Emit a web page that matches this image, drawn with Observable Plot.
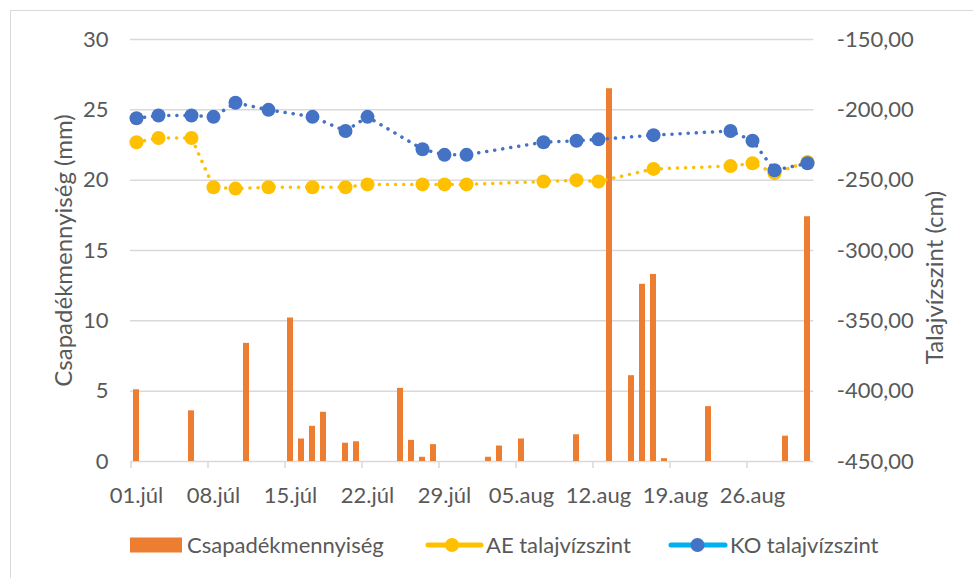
<!DOCTYPE html>
<html>
<head>
<meta charset="utf-8">
<script src="https://cdn.jsdelivr.net/npm/d3@7"></script>
<script src="https://cdn.jsdelivr.net/npm/@observablehq/plot@0.6"></script>
<style>
  html, body { margin: 0; padding: 0; background: #fff; }
  body { width: 973px; height: 578px; position: relative; overflow: hidden; font-family: Lato, "Noto Sans", sans-serif; }
  #frame { position: absolute; left: 10px; top: 10px; width: 1000px; height: 620px; border: 1.5px solid #d9d9d9; box-sizing: border-box; }
  #chart { position: absolute; left: 0; top: 0; }
  #legend { position: absolute; left: 0; top: 520px; }
</style>
</head>
<body>
<div id="frame"></div>
<div id="chart"></div>
<div id="legend"></div>
<script>
// ---- data ----
const months = [["júl", 31], ["aug", 31]];
const xTickLabels = ["01.júl", "08.júl", "15.júl", "22.júl", "29.júl", "05.aug", "12.aug", "19.aug", "26.aug"];
const leftTicks = [0, 5, 10, 15, 20, 25, 30];
const rightTicks = [-450, -400, -350, -300, -250, -200, -150];

const rainDates = ["01.júl", "06.júl", "11.júl", "15.júl", "16.júl", "17.júl", "18.júl", "20.júl", "21.júl",
  "25.júl", "26.júl", "27.júl", "28.júl", "02.aug", "03.aug", "05.aug", "10.aug", "13.aug", "15.aug",
  "16.aug", "17.aug", "18.aug", "22.aug", "29.aug", "31.aug"];
const rainMm = [5.1, 3.6, 8.4, 10.2, 1.6, 2.5, 3.5, 1.3, 1.4,
  5.2, 1.5, 0.3, 1.2, 0.3, 1.1, 1.6, 1.9, 26.5, 6.1,
  12.6, 13.3, 0.2, 3.9, 1.8, 17.4];

const gwDates = ["01.júl", "03.júl", "06.júl", "08.júl", "10.júl", "13.júl", "17.júl", "20.júl", "22.júl",
  "27.júl", "29.júl", "31.júl", "07.aug", "10.aug", "12.aug", "17.aug", "24.aug", "26.aug", "28.aug", "31.aug"];
const aeCm = [-223, -220, -220, -255, -256, -255, -255, -255, -253,
  -253, -253, -253, -251, -250, -251, -242, -240, -238, -245, -237];
const koCm = [-206, -204, -204, -205, -195, -200, -205, -215, -205,
  -228, -232, -232, -223, -222, -221, -218, -215, -222, -243, -238];

const rainTitle = "Csapadékmennyiség (mm)";
const gwTitle = "Talajvízszint (cm)";
const legendNames = ["Csapadékmennyiség", "AE talajvízszint", "KO talajvízszint"];

// ---- derived tables ----
const days = [];
for (const [m, n] of months) for (let i = 1; i <= n; i++) days.push(String(i).padStart(2, "0") + "." + m);
const rain = rainDates.map((d, i) => ({date: d, mm: rainMm[i]}));
const gw = gwDates.map((d, i) => ({date: d, ae: aeCm[i], ko: koCm[i]}));

// secondary axis mapping: right [-450,-150] onto left [0,30]
const toLeft = v => (v + 450) / 10;
const fmtCm = v => v.toFixed(2).replace(".", ",");

const W = 973, H = 520, mL = 130, mR = 159.7, mT = 39, mB = 59;
const step = (W - mL - mR) / days.length;
const textColor = "#595959";

const chart = Plot.plot({
  width: W, height: H,
  marginLeft: mL, marginRight: mR, marginTop: mT, marginBottom: mB,
  style: {fontFamily: "Lato, 'Noto Sans', sans-serif", fontSize: "22px", color: textColor, background: "transparent"},
  x: {type: "band", domain: days, paddingInner: 0.43, paddingOuter: 0.215},
  y: {domain: [0, 30]},
  marks: [
    Plot.ruleY(leftTicks, {stroke: "#d9d9d9", strokeWidth: 1.5}),
    Plot.axisX({ticks: xTickLabels, tickSize: 7, fill: "none", stroke: "#d9d9d9", strokeWidth: 1.5, dx: -step / 2, label: null}),
    Plot.axisX({ticks: xTickLabels, tickSize: 0, tickPadding: 26, label: null, fill: textColor}),
    Plot.axisY({anchor: "left", ticks: leftTicks, tickSize: 0, tickPadding: 22, label: null, fill: textColor}),
    Plot.axisY({anchor: "right", ticks: rightTicks.map(toLeft), tickFormat: d => fmtCm(d * 10 - 450),
      tickSize: 0, tickPadding: 23, label: null, fill: textColor}),
    Plot.barY(rain, {x: "date", y: "mm", fill: "#ED7D31"}),
    Plot.line(gw, {x: "date", y: d => toLeft(d.ae), stroke: "#FFC000", strokeWidth: 3.5,
      strokeDasharray: "0.1 8", strokeLinecap: "round"}),
    Plot.dot(gw, {x: "date", y: d => toLeft(d.ae), r: 7, fill: "#FFC000"}),
    Plot.line(gw, {x: "date", y: d => toLeft(d.ko), stroke: "#4472C4", strokeWidth: 3.5,
      strokeDasharray: "0.1 8", strokeLinecap: "round"}),
    Plot.dot(gw, {x: "date", y: d => toLeft(d.ko), r: 7, fill: "#4472C4"}),
    Plot.text([rainTitle], {text: d => d, frameAnchor: "left", textAnchor: "middle", rotate: -90, dx: -66, fontSize: 24, fill: textColor}),
    Plot.text([gwTitle], {text: d => d, frameAnchor: "right", textAnchor: "middle", rotate: -90, dx: 122, dy: 27, fontSize: 24, fill: textColor})
  ]
});
document.getElementById("chart").appendChild(chart);

// ---- legend ----
const ns = "http://www.w3.org/2000/svg";
const lg = document.createElementNS(ns, "svg");
lg.setAttribute("width", W); lg.setAttribute("height", 58);
lg.setAttribute("font-family", "Lato, 'Noto Sans', sans-serif");
lg.setAttribute("font-size", "22");
function el(tag, attrs) {
  const e = document.createElementNS(ns, tag);
  for (const k in attrs) e.setAttribute(k, attrs[k]);
  lg.appendChild(e); return e;
}
const cy = 25;
el("rect", {x: 130, y: cy - 7.5, width: 52, height: 15, fill: "#ED7D31"});
el("text", {x: 187, y: cy + 7.5, fill: textColor}).textContent = legendNames[0];
el("line", {x1: 428, x2: 481, y1: cy, y2: cy, stroke: "#FFC000", "stroke-width": 5, "stroke-linecap": "round"});
el("circle", {cx: 452, cy: cy, r: 7, fill: "#FFC000"});
el("text", {x: 486, y: cy + 7.5, fill: textColor}).textContent = legendNames[1];
el("line", {x1: 671, x2: 725, y1: cy, y2: cy, stroke: "#00B0F0", "stroke-width": 5, "stroke-linecap": "round"});
el("circle", {cx: 697.5, cy: cy, r: 7, fill: "#4472C4"});
el("text", {x: 730, y: cy + 7.5, fill: textColor}).textContent = legendNames[2];
document.getElementById("legend").appendChild(lg);
</script>
</body>
</html>
